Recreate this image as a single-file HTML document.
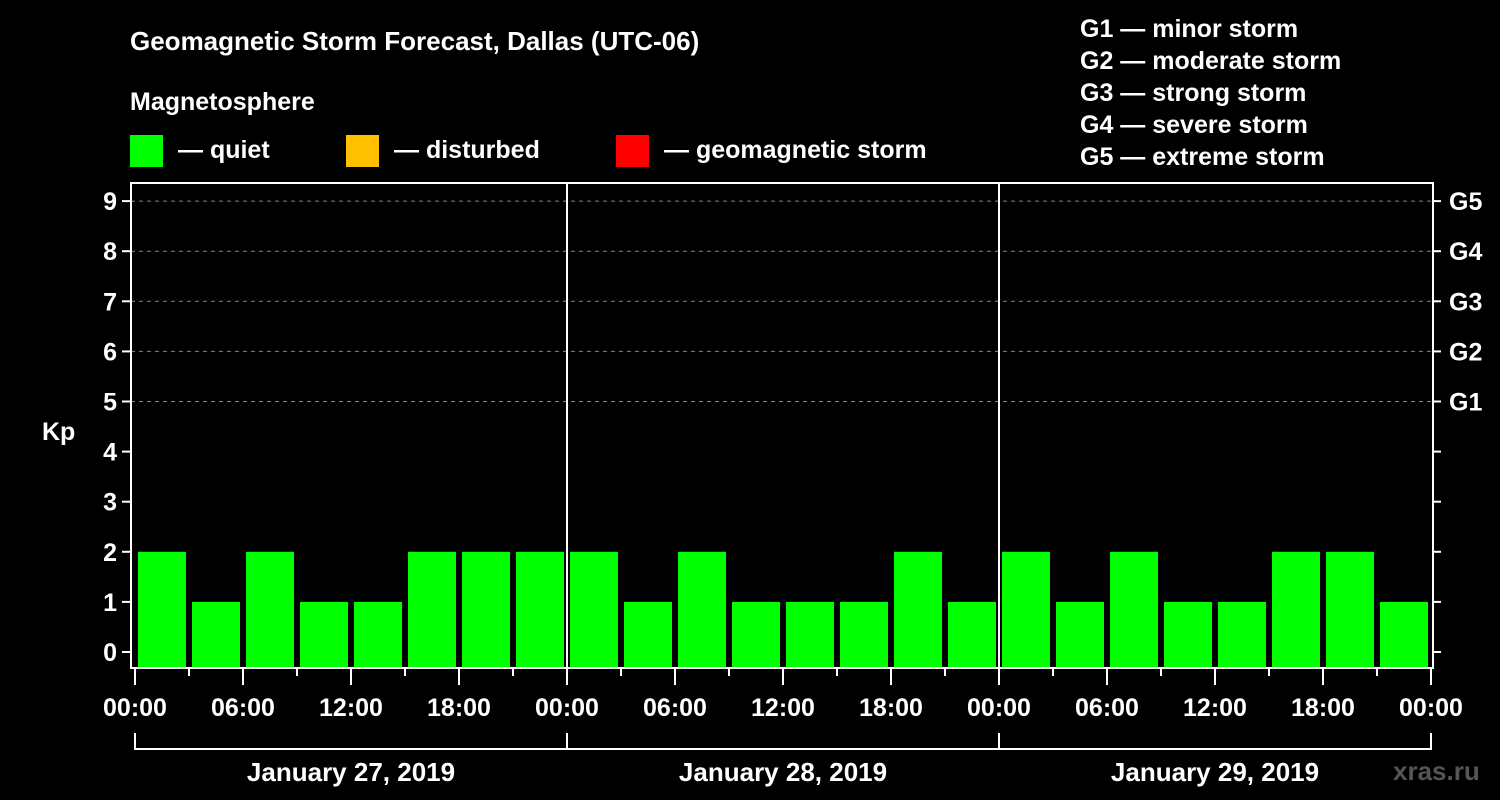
<!DOCTYPE html>
<html><head><meta charset="utf-8"><style>
html,body{margin:0;padding:0;background:#000;}
svg{display:block;font-family:"Liberation Sans",sans-serif;font-weight:bold;}
</style></head><body>
<svg id="c" width="1500" height="800" viewBox="0 0 1500 800">
<rect width="1500" height="800" fill="#000"/>
<text x="130" y="50" font-size="26" fill="#fff">Geomagnetic Storm Forecast, Dallas (UTC-06)</text>
<text x="130" y="110" font-size="25" fill="#fff">Magnetosphere</text>
<g><rect x="130" y="135" width="33" height="32" fill="#00ff00"/><text x="178" y="158" font-size="25" fill="#fff">— quiet</text></g>
<g><rect x="346" y="135" width="33" height="32" fill="#ffc000"/><text x="394" y="158" font-size="25" fill="#fff">— disturbed</text></g>
<g><rect x="616" y="135" width="33" height="32" fill="#ff0000"/><text x="664" y="158" font-size="25" fill="#fff">— geomagnetic storm</text></g>
<g font-size="25" fill="#fff">
<text x="1080" y="37">G1 — minor storm</text>
<text x="1080" y="69">G2 — moderate storm</text>
<text x="1080" y="101">G3 — strong storm</text>
<text x="1080" y="133">G4 — severe storm</text>
<text x="1080" y="165">G5 — extreme storm</text>
</g>
<text x="42" y="440" font-size="25" fill="#fff">Kp</text>
<text x="1393" y="780" font-size="26" fill="#555">xras.ru</text>
<g id="plot"></g>
</svg>
<script>
const days = ["January 27, 2019","January 28, 2019","January 29, 2019"];
const kpDay1 = [2,1,2,1,1,2,2,2];
const kpDay2 = [2,1,2,1,1,1,2,1];
const kpDay3 = [2,1,2,1,1,2,2,1];
const yTicks = [0,1,2,3,4,5,6,7,8,9];
const gLabels = ["G1","G2","G3","G4","G5"];
const gLevels = [5,6,7,8,9];
const hourLabels = ["00:00","06:00","12:00","18:00"];

const NS="http://www.w3.org/2000/svg";
const g=document.getElementById('plot');
const X0=135, DAYW=432, L=131, R=1433, T=183, B=668;
const y=v=>652-v*50.1;
const x=h=>X0+h/24*DAYW;
function mk(tag,attrs){const e=document.createElementNS(NS,tag);for(const k in attrs)e.setAttribute(k,attrs[k]);g.appendChild(e);return e;}
// grid
yTicks.forEach(v=>{
  if(v>=5){const l=mk('line',{x1:L,x2:R,y1:y(v),y2:y(v),stroke:'#888','stroke-width':1,'stroke-dasharray':'4,4'});
  
  }
  const t=mk('line',{x1:L-9,x2:L,y1:y(v),y2:y(v),stroke:'#fff','stroke-width':2});
  
  
  const t2=mk('line',{x1:R,x2:R+8,y1:y(v),y2:y(v),stroke:'#fff','stroke-width':2});
  
  
  const tx=mk('text',{x:L-14,y:y(v)+9,'text-anchor':'end','font-size':25,fill:'#fff'});tx.textContent=v;
  
  
});
gLevels.forEach((v,i)=>{
  const tx=mk('text',{x:1449,y:y(v)+9,'font-size':25,fill:'#fff'});tx.textContent=gLabels[i];
  
  
});
// bars
const color=v=>v>=5?'#ff0000':(v>=4?'#ffc000':'#00ff00');
[kpDay1,kpDay2,kpDay3].forEach((arr,d)=>{
  arr.forEach((v,i)=>{
    const h0=d*24+i*3;
    const b=mk('rect',{x:x(h0)+3,y:y(v),width:x(3)-X0-6,height:B-1-y(v),fill:color(v)});
    
    
  });
});
// frame
const fr=mk('rect',{x:L,y:T,width:R-L,height:B-T,fill:'none',stroke:'#fff','stroke-width':2});


// day separators, x ticks and labels
for(let d=0;d<=days.length;d++){
  if(d>0&&d<days.length){const s=mk('line',{x1:x(d*24),x2:x(d*24),y1:T,y2:B,stroke:'#fff','stroke-width':2});
  
  }
}
for(let h=0;h<=72;h+=3){
  const t=mk('line',{x1:x(h),x2:x(h),y1:B,y2:h%6===0?685:676,stroke:'#fff','stroke-width':2});
  
  
  if(h%6===0){
    const lab=h===72?hourLabels[0]:hourLabels[(h%24)/6];
    const tx=mk('text',{x:x(h),y:716,'text-anchor':'middle','font-size':25,fill:'#fff'});tx.textContent=lab;
    
    
  }
}
days.forEach((dname,d)=>{
  const a=x(d*24), b=x(d*24+24);
  const p=mk('path',{d:`M${a} 733 V749 H${b} V733`,fill:'none',stroke:'#fff','stroke-width':2});
  
  
  const tx=mk('text',{x:(a+b)/2,y:781,'text-anchor':'middle','font-size':26,fill:'#fff'});tx.textContent=dname;
  
  
});
</script>
</body></html>
